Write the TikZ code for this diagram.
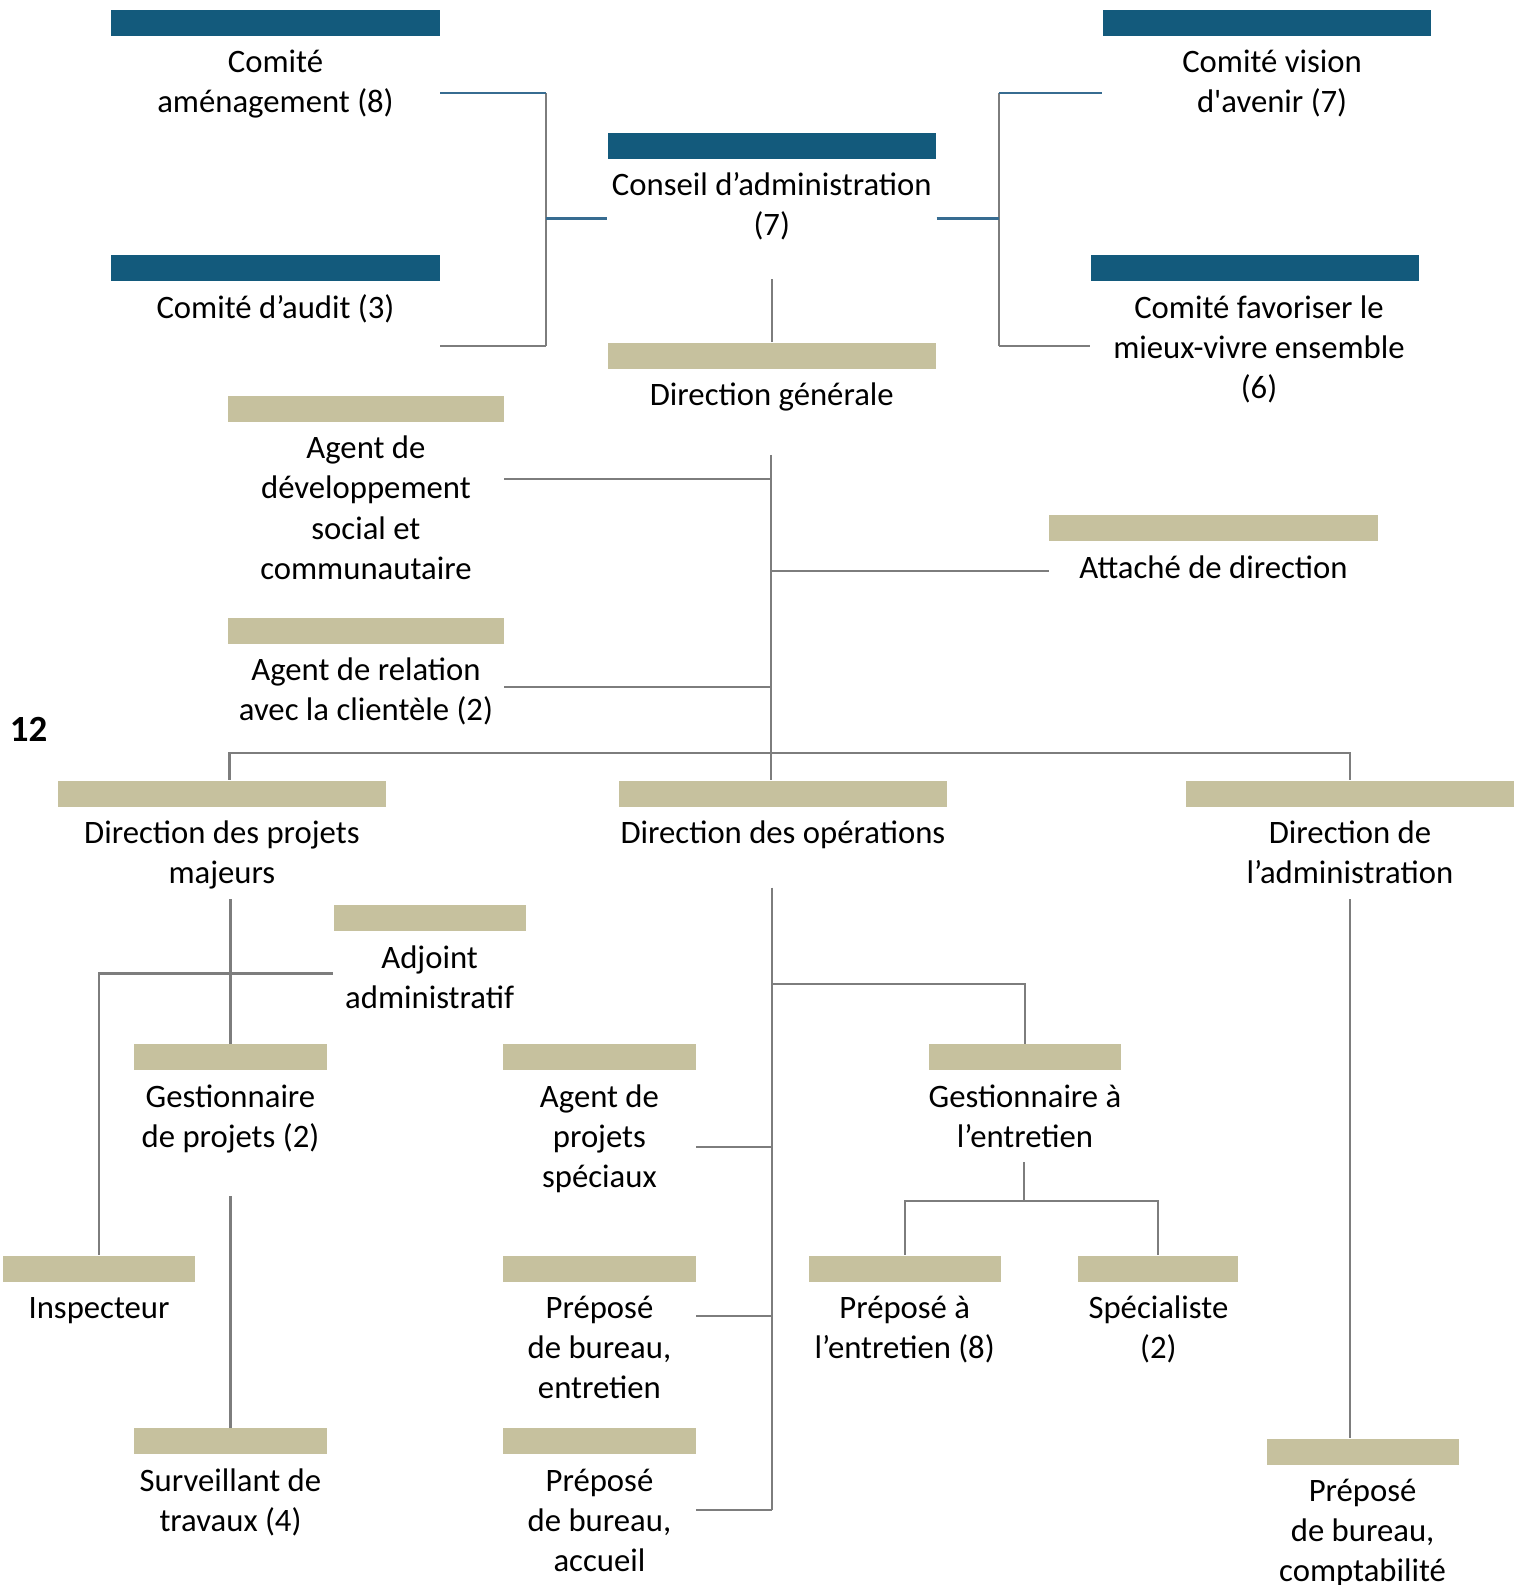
\documentclass[tikz,border=0pt]{standalone}
\usepackage{fontspec}
\setmainfont{Carlito}
\usetikzlibrary{positioning}
\definecolor{ctdark}{RGB}{19,90,124}
\definecolor{cttan}{RGB}{198,193,158}
\definecolor{ctgray}{RGB}{125,125,125}
\definecolor{ctblue}{RGB}{55,108,145}

\begin{document}
\begin{tikzpicture}[x=0.010106cm, y=-0.010106cm,
    every node/.style={font=\fontsize{9.3}{11.4}\selectfont},
    darkbar/.style={fill=ctdark, inner sep=0pt, minimum height=0.26cm, minimum width=3.28cm},
    tanbar/.style={darkbar, fill=cttan},
    short/.style={minimum width=1.92cm},
    mid/.style={minimum width=2.75cm},
    lbl/.style={align=center, inner sep=0pt, below=0.75mm of #1},
    gline/.style={draw=ctgray, line width=0.6pt},
    bline/.style={draw=ctblue, line width=0.8pt}]
    \useasboundingbox (0,0) rectangle (1501,1568);

    % Comites et conseil
    \node[darkbar] (amen) at (272.5,22.5) {};
    \node[lbl=amen] (amen-t) {\strut Comité\\aménagement (8)};
    \node[darkbar] (audit) at (272.5,265.5) {};
    \node[lbl=audit] (audit-t) {\strut Comité d’audit (3)};
    \node[darkbar] (conseil) at (763.5,144) {};
    \node[lbl=conseil] (conseil-t) {\strut Conseil d’administration\\(7)};
    \node[darkbar] (vision) at (1253.5,22.5) {};
    \node[lbl=vision, xshift=0.05cm] (vision-t) {\strut Comité vision\\d\textquotesingle avenir (7)};
    \node[darkbar] (mieux) at (1241.5,265.5) {};
    \node[lbl=mieux, xshift=0.04cm] (mieux-t) {\strut Comité favoriser le\\mieux-vivre ensemble\\(6)};

    % Direction generale
    \node[tanbar] (dg) at (763.5,352) {};
    \node[lbl=dg] (dg-t) {\strut Direction générale};
    \node[tanbar, mid] (agdev) at (362,404.5) {};
    \node[lbl=agdev] (agdev-t) {\strut Agent de\\développement\\social et\\communautaire};
    \node[tanbar] (attache) at (1200.5,522.5) {};
    \node[lbl=attache] (attache-t) {\strut Attaché de direction};
    \node[tanbar, mid] (agrel) at (362,624) {};
    \node[lbl=agrel] (agrel-t) {\strut Agent de relation\\avec la clientèle (2)};

    \node[anchor=west, inner sep=0pt, font=\bfseries\fontsize{10.5}{12}\selectfont] (page) at (9,722) {12};

    % Directions
    \node[tanbar] (dpm) at (219.5,785) {};
    \node[lbl=dpm] (dpm-t) {\strut Direction des projets\\majeurs};
    \node[tanbar] (dop) at (774.5,785) {};
    \node[lbl=dop] (dop-t) {\strut Direction des opérations};
    \node[tanbar] (dadm) at (1335.5,785) {};
    \node[lbl=dadm] (dadm-t) {\strut Direction de\\l’administration};

    % Projets majeurs
    \node[tanbar, short] (adjoint) at (425,908.5) {};
    \node[lbl=adjoint] (adjoint-t) {\strut Adjoint\\administratif};
    \node[tanbar, short] (gestp) at (228,1046) {};
    \node[lbl=gestp] (gestp-t) {\strut Gestionnaire\\de projets (2)};
    \node[tanbar, short] (insp) at (98,1255) {};
    \node[lbl=insp] (insp-t) {\strut Inspecteur};
    \node[tanbar, short] (surv) at (228,1426) {};
    \node[lbl=surv] (surv-t) {\strut Surveillant de\\travaux (4)};

    % Operations
    \node[tanbar, short] (agps) at (593,1046) {};
    \node[lbl=agps] (agps-t) {\strut Agent de\\projets\\spéciaux};
    \node[tanbar, short] (gestent) at (1014,1046) {};
    \node[lbl=gestent] (gestent-t) {\strut Gestionnaire à\\l’entretien};
    \node[tanbar, short] (prent) at (895,1255) {};
    \node[lbl=prent] (prent-t) {\strut Préposé à\\l’entretien (8)};
    \node[tanbar, minimum width=1.6cm] (spec) at (1146,1255) {};
    \node[lbl=spec] (spec-t) {\strut Spécialiste\\(2)};
    \node[tanbar, short] (pbent) at (593,1255) {};
    \node[lbl=pbent] (pbent-t) {\strut Préposé\\de bureau,\\entretien};
    \node[tanbar, short] (pbacc) at (593,1426) {};
    \node[lbl=pbacc] (pbacc-t) {\strut Préposé\\de bureau,\\accueil};

    % Administration
    \node[tanbar, short] (pbcomp) at (1348,1436) {};
    \node[lbl=pbcomp] (pbcomp-t) {\strut Préposé\\de bureau,\\comptabilité};

    % Liens des comites
    \coordinate (cl) at (540,216);
    \coordinate (cr) at (988,216);
    \draw[gline] (cl |- 0,92) -- (cl |- 0,342);
    \draw[bline] (amen.east |- 0,92) -- (cl |- 0,92);
    \draw[gline] (audit.east |- 0,342) -- (cl |- 0,342);
    \draw[bline] (cl) -- (conseil.west |- cl);
    \draw[gline] (cr |- 0,92) -- (cr |- 0,342);
    \draw[bline] (conseil.east |- cr) -- (cr);
    \draw[bline] (cr |- 0,92) -- (vision.west |- 0,92);
    \draw[gline] (cr |- 0,342) -- (mieux.west |- 0,342);
    \draw[gline] (dg.north) -- ++(0,-62);

    % Tronc principal
    \coordinate (trunk) at (763,450);
    \coordinate (hub) at (763,745);
    \draw[gline] (trunk) -- (hub |- dop.north);
    \draw[gline] (agdev.east |- 0,474) -- (trunk |- 0,474);
    \draw[gline] (trunk |- 0,565) -- (attache.west |- 0,565);
    \draw[gline] (agrel.east |- 0,680) -- (trunk |- 0,680);
    \draw[gline] (dpm.north -| 227,0) |- (hub) -| (dadm.north);

    % Sous-liens
    \coordinate (pj) at (227,963);
    \draw[gline] (gestp.north) -- ++(0,-143);
    \draw[gline] (adjoint.west |- pj) -| (insp.north);
    \draw[gline] (surv.north) -- ++(0,-229);

    \coordinate (op) at (764,878);
    \draw[gline] (op) -- (op |- 0,1494);
    \draw[gline] (op |- 0,973) -| (gestent.north);
    \draw[gline] (agps.east |- 0,1135) -- (op |- 0,1135);
    \draw[gline] (pbent.east |- 0,1302) -- (op |- 0,1302);
    \draw[gline] (pbacc.east |- 0,1494) -- (op |- 0,1494);

    \coordinate (ge) at (1013,1188);
    \draw[gline] (ge) -- ++(0,-38);
    \draw[gline] (prent.north) |- (ge) -| (spec.north);

    \draw[gline] (pbcomp.north -| dadm.north) -- ++(0,-533);
\end{tikzpicture}
\end{document}
